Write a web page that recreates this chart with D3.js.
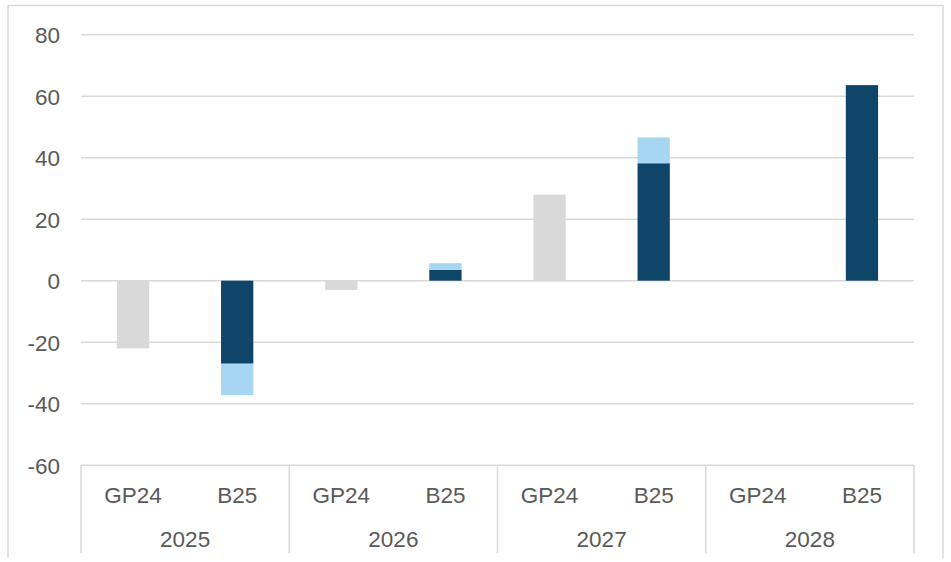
<!DOCTYPE html>
<html>
<head>
<meta charset="utf-8">
<script src="https://cdn.jsdelivr.net/npm/d3@7"></script>
<style>
  html, body { margin: 0; padding: 0; background: #fff; }
  svg { display: block; }
  text { font-family: "Liberation Sans", Arial, sans-serif; fill: #595959; }
</style>
</head>
<body>
<svg id="chart" width="951" height="562"></svg>
<script>
// Years and the two plan versions shown for each year
const years = ["2025", "2026", "2027", "2028"];
const versions = ["GP24", "B25"];

// GP24 values per year (no value for 2028)
const gp24 = [-22, -3, 28, null];
// B25 base part per year
const b25Base = [-27, 3.5, 38.2, 63.6];
// B25 additional part stacked on the base
const b25Extra = [-10.2, 2.2, 8.4, 0];

const yTicks = [-60, -40, -20, 0, 20, 40, 60, 80];

const colors = { gp24: "#d9d9d9", base: "#10456a", extra: "#a6d6f2", grid: "#d9d9d9" };

const plot = { left: 81, right: 914, top: 34.7, bottom: 465.2 };

const svg = d3.select("#chart");

// Outer frame
svg.append("path")
  .attr("d", `M8,558 V5.5 H943 V558`)
  .attr("fill", "none")
  .attr("stroke", "#d9d9d9")
  .attr("stroke-width", 1.5);

const y = d3.scaleLinear().domain([-60, 80]).range([plot.bottom, plot.top]);
const xYear = d3.scaleBand().domain(years).range([plot.left, plot.right]);
const xVer = d3.scaleBand().domain(versions).range([0, xYear.bandwidth()]);
const barW = xVer.bandwidth() * 0.31;

// Horizontal gridlines
svg.append("g").selectAll("line").data(yTicks.filter(t => t !== -60)).join("line")
  .attr("x1", plot.left).attr("x2", plot.right)
  .attr("y1", d => y(d)).attr("y2", d => y(d))
  .attr("stroke", colors.grid).attr("stroke-width", 1.5);

// Y axis labels (plain hyphen for negatives)
const yAxis = d3.axisLeft(y).tickValues(yTicks).tickSize(0).tickPadding(0)
  .tickFormat(d => String(d));
const gy = svg.append("g").attr("transform", "translate(60,0)").call(yAxis);
gy.select(".domain").remove();
gy.selectAll("text")
  .attr("font-size", 22.5)
  .attr("font-family", "Liberation Sans, Arial, sans-serif")
  .attr("fill", "#595959")
  .attr("dy", "0.36em");

// Bars
const cx = (yr, v) => xYear(yr) + xVer(v) + xVer.bandwidth() / 2;
const bars = svg.append("g");

years.forEach((yr, i) => {
  if (gp24[i] !== null) {
    bars.append("rect")
      .attr("x", cx(yr, "GP24") - barW / 2).attr("width", barW)
      .attr("y", Math.min(y(0), y(gp24[i])))
      .attr("height", Math.abs(y(gp24[i]) - y(0)))
      .attr("fill", colors.gp24);
  }
  const b = b25Base[i], e = b25Extra[i];
  bars.append("rect")
    .attr("x", cx(yr, "B25") - barW / 2).attr("width", barW)
    .attr("y", Math.min(y(0), y(b)))
    .attr("height", Math.abs(y(b) - y(0)))
    .attr("fill", colors.base);
  if (e !== 0) {
    bars.append("rect")
      .attr("x", cx(yr, "B25") - barW / 2).attr("width", barW)
      .attr("y", Math.min(y(b), y(b + e)))
      .attr("height", Math.abs(y(b + e) - y(b)))
      .attr("fill", colors.extra);
  }
});

// Category axis: boxed two-level labels
const axisG = svg.append("g");
axisG.append("line")
  .attr("x1", plot.left).attr("x2", plot.right)
  .attr("y1", y(-60)).attr("y2", y(-60))
  .attr("stroke", colors.grid).attr("stroke-width", 1.5);
const seps = years.map(yr => xYear(yr)).concat([plot.right]);
axisG.selectAll("line.sep").data(seps).join("line")
  .attr("class", "sep")
  .attr("x1", d => d).attr("x2", d => d)
  .attr("y1", y(-60)).attr("y2", 553)
  .attr("stroke", colors.grid).attr("stroke-width", 1.5);

years.forEach(yr => {
  versions.forEach(v => {
    axisG.append("text")
      .attr("x", cx(yr, v)).attr("y", 502.5)
      .attr("text-anchor", "middle")
      .attr("font-size", 22.5)
      .text(v);
  });
  axisG.append("text")
    .attr("x", xYear(yr) + xYear.bandwidth() / 2).attr("y", 547)
    .attr("text-anchor", "middle")
    .attr("font-size", 22.5)
    .text(yr);
});
</script>
</body>
</html>
